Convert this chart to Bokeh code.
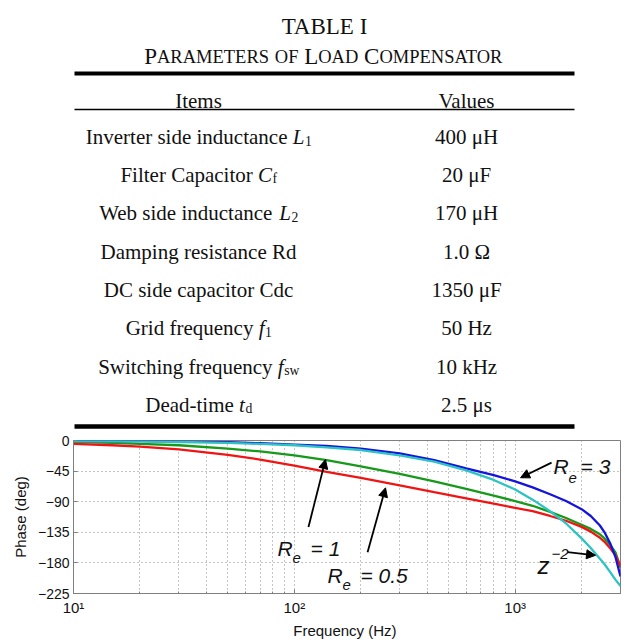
import math
from bokeh.plotting import figure
from bokeh.models import Range1d, FixedTicker, Label, Arrow, NormalHead
from bokeh.layouts import column
from bokeh.core.properties import value
from bokeh.embed import file_html
from bokeh.resources import INLINE

# ---------------- data ----------------
table_title = "TABLE I"
table_caption = [("P", "ARAMETERS"), ("", "OF"), ("L", "OAD"), ("C", "OMPENSATOR")]
col_headers = ["Items", "Values"]
item_base = ["Inverter side inductance ", "Filter Capacitor ", "Web side inductance ",
             "Damping resistance Rd", "DC side capacitor Cdc", "Grid frequency ",
             "Switching frequency ", "Dead-time "]
item_sym = ["L", "C", "L", "", "", "f", "f", "t"]
item_sub = ["1", "f", "2", "", "", "1", "sw", "d"]
item_values = ["400 μH", "20 μF", "170 μH", "1.0 Ω", "1350 μF", "50 Hz", "10 kHz", "2.5 μs"]

freq = [10, 15, 20, 30, 50, 70, 100, 140, 200, 300, 430, 600, 800, 1000, 1200, 1440,
        1700, 2000, 2200, 2420, 2540, 2700, 2850, 3000]
phase_re05 = [-5, -7, -9, -13, -21, -28, -37, -46, -55, -66, -76, -85, -93, -99, -104, -111,
              -118, -127, -134, -143, -149, -159, -169, -185]
phase_re1 = [-2, -3.5, -5, -7, -12, -16, -22, -29, -38, -49, -60, -71, -81, -89, -96, -105,
             -114, -124, -130, -138, -144, -154, -165, -187]
phase_re3 = [-0.5, -0.8, -1, -1.5, -2.5, -4, -6, -8, -12, -19, -29, -41, -51, -60, -69, -79,
             -89, -101, -111, -125, -135, -152, -172, -200]
phase_z2 = [-0.7, -1.1, -1.4, -2.2, -3.6, -5, -7, -10, -14, -22, -31, -44, -58, -72, -87, -104,
            -122, -144, -158, -174, -182, -194, -205, -214]

y_ticks = [0, -45, -90, -135, -180, -225]
x_major = [10, 100, 1000]
x_minor = [20, 30, 40, 50, 60, 70, 80, 90, 200, 300, 400, 500, 600, 700, 800, 900, 2000, 3000]
x_tick_labels = ["10\u00b9", "10\u00b2", "10\u00b3"]

# ---------------- table ----------------
SERIF = "Liberation Serif"
REG = {'a': 444, 'b': 500, 'c': 444, 'd': 500, 'e': 444, 'f': 333, 'g': 500, 'h': 500,
       'i': 278, 'k': 500, 'l': 278, 'm': 778, 'n': 500, 'o': 500, 'p': 500, 'q': 500,
       'r': 333, 's': 389, 't': 278, 'u': 500, 'v': 500, 'w': 722, 'y': 500, 'z': 444,
       ' ': 250, '-': 333, '.': 250, 'A': 722, 'B': 667, 'C': 667, 'D': 722, 'E': 611,
       'F': 556, 'G': 722, 'H': 722, 'I': 333, 'L': 611, 'M': 889, 'N': 722, 'O': 722,
       'P': 556, 'R': 667, 'S': 556, 'T': 611, 'V': 722, 'W': 944, 'μ': 576, 'Ω': 768}
ITA = {'L': 556, 'C': 667, 'f': 278, 't': 278}


def tw(s, size, italic=False):
    tot = 0
    for ch in s:
        if ch.isdigit():
            tot += 500
        elif italic and ch in ITA:
            tot += ITA[ch]
        else:
            tot += REG.get(ch, 500)
    return tot / 1000.0 * size


W = 633
FL, FR = 73, 13   # frame borders shared by both figures (column aligns them)
p1 = figure(width=W, height=430, x_range=Range1d(FL, W - FR), y_range=Range1d(430, 0),
            output_backend="svg", toolbar_location=None,
            min_border_left=FL, min_border_right=FR, min_border_top=0, min_border_bottom=0)
p1.axis.visible = False
p1.grid.visible = False
p1.outline_line_color = None

TCX = 324
ITEM_CX = 198
VAL_CX = 466
FS = 21
TXT = "#111111"
row_base = [136 + 38.35 * i for i in range(len(item_base))]

# title
p1.text(x=[TCX], y=[26], text=[table_title], text_font=value(SERIF), text_font_size="23px",
        text_align="center", text_baseline="alphabetic", text_color=TXT)
BIG, SMALL = 23, 18.5
pieces = []
for k, (cap, rest) in enumerate(table_caption):
    if cap:
        pieces.append((cap, BIG))
    pieces.append((rest, SMALL))
    if k < len(table_caption) - 1:
        pieces.append((" ", BIG))
total = sum(tw(s, sz) for s, sz in pieces)
xc = TCX - total / 2
for s, sz in pieces:
    if s.strip():
        p1.text(x=[xc], y=[56], text=[s], text_font=value(SERIF), text_font_size=f"{sz}px",
                text_align="left", text_baseline="alphabetic", text_color=TXT)
    xc += tw(s, sz)

# rules
RX0, RX1 = 74, 574
p1.segment(x0=[RX0], y0=[73], x1=[RX1], y1=[73], line_color="black", line_width=4)
p1.segment(x0=[RX0], y0=[109], x1=[RX1], y1=[109], line_color="black", line_width=1.5)
p1.segment(x0=[RX0], y0=[426], x1=[RX1], y1=[426], line_color="black", line_width=4.5)

# header
p1.text(x=[ITEM_CX, VAL_CX], y=[100, 100], text=col_headers, text_font=value(SERIF),
        text_font_size=f"{FS}px", text_align="center", text_baseline="alphabetic",
        text_color=TXT)

# rows
for i in range(len(item_base)):
    yb = row_base[i]
    base, sym, sub = item_base[i], item_sym[i], item_sub[i]
    if not sym:
        p1.text(x=[ITEM_CX], y=[yb], text=[base], text_font=value(SERIF),
                text_font_size=f"{FS}px", text_align="center", text_baseline="alphabetic",
                text_color=TXT)
    else:
        SUBFS = FS * 0.65
        bw = tw(base, FS)
        sw = tw(sym, FS, italic=True)
        subw = tw(sub, SUBFS)
        x0 = ITEM_CX - (bw + sw + subw) / 2
        p1.text(x=[x0], y=[yb], text=[base.rstrip()], text_font=value(SERIF),
                text_font_size=f"{FS}px", text_align="left", text_baseline="alphabetic",
                text_color=TXT)
        p1.text(x=[x0 + bw], y=[yb], text=[sym], text_font=value(SERIF),
                text_font_size=f"{FS}px", text_font_style="italic", text_align="left",
                text_baseline="alphabetic", text_color=TXT)
        p1.text(x=[x0 + bw + sw + 0.5], y=[yb + 4], text=[sub], text_font=value(SERIF),
                text_font_size=f"{SUBFS:.1f}px", text_align="left",
                text_baseline="alphabetic", text_color=TXT)
    p1.text(x=[VAL_CX], y=[yb], text=[item_values[i]], text_font=value(SERIF),
            text_font_size=f"{FS}px", text_align="center", text_baseline="alphabetic",
            text_color=TXT)

# ---------------- chart ----------------
SANS = "Liberation Sans"
p2 = figure(width=W, height=213, x_axis_type="log", x_range=Range1d(10, 3000),
            y_range=Range1d(-225, 0), output_backend="svg", toolbar_location=None,
            min_border_left=FL, min_border_right=FR, min_border_top=10, min_border_bottom=50)
p2.background_fill_color = "white"
p2.outline_line_color = "#7f7f7f"
p2.outline_line_width = 1

xt = FixedTicker(ticks=x_major, minor_ticks=x_minor)
yt = FixedTicker(ticks=y_ticks)
xa = p2.xaxis[0]
ya = p2.yaxis[0]
xa.ticker = xt
ya.ticker = yt
p2.xgrid[0].ticker = xt
p2.ygrid[0].ticker = yt
xa.major_label_overrides = dict(zip(x_major, x_tick_labels))
ya.major_label_overrides = {t: ("\u2212%d" % (-t) if t < 0 else "0") for t in y_ticks}

for ax in (xa, ya):
    ax.axis_line_color = "#7f7f7f"
    ax.major_tick_line_color = "#7f7f7f"
    ax.minor_tick_line_color = "#7f7f7f"
    ax.major_tick_in = 4
    ax.major_tick_out = 0
    ax.minor_tick_in = 2
    ax.minor_tick_out = 0
    ax.major_label_text_font = SANS
    ax.major_label_text_font_size = "14px"
    ax.major_label_text_color = TXT
    ax.axis_label_text_font = SANS
    ax.axis_label_text_font_size = "15px"
    ax.axis_label_text_font_style = "normal"
    ax.axis_label_text_color = TXT
xa.major_label_text_font_size = "15px"
xa.major_label_standoff = 5
xa.axis_label_standoff = 3
ya.major_label_standoff = 4
ya.axis_label_standoff = 6
xa.axis_label = "Frequency  (Hz)"
ya.axis_label = "Phase (deg)"

for g in (p2.xgrid[0], p2.ygrid[0]):
    g.grid_line_color = "#8a8a8a"
    g.grid_line_dash = "1 3"
    g.grid_line_width = 1
p2.xgrid[0].minor_grid_line_color = "#8a8a8a"
p2.xgrid[0].minor_grid_line_dash = "1 3"
p2.xgrid[0].minor_grid_line_width = 1

GREEN, RED, BLUE, CYAN = "#17991a", "#f01515", "#1414dc", "#2ec3c3"
p2.line(freq, phase_re1, line_color=GREEN, line_width=2.3)
p2.line(freq, phase_re05, line_color=RED, line_width=2.3)
p2.line(freq, phase_re3, line_color=BLUE, line_width=2.3)
p2.line(freq, phase_z2, line_color=CYAN, line_width=2.3)


def lab(x, y, text, dx=0, dy=0, size=21):
    p2.add_layout(Label(x=x, y=y, text=text, x_offset=dx, y_offset=dy,
                        text_font=SANS, text_font_style="italic",
                        text_font_size=f"{size}px", text_align="left",
                        text_baseline="alphabetic", text_color=TXT))


def arrow(xs, ys, xe, ye):
    p2.add_layout(Arrow(x_start=xs, y_start=ys, x_end=xe, y_end=ye, line_width=1.8,
                        line_color="black",
                        end=NormalHead(size=9, fill_color="black", line_color="black")))


# R_e = 3
lab(1493, -38.5, "R")
lab(1493, -38.5, "e", dx=15, dy=-11, size=15)
lab(1493, -38.5, "= 3", dx=27)
arrow(1462, -32.6, 1058, -54.8)
# R_e = 1
lab(84, -158.4, "R")
lab(84, -158.4, "e", dx=15, dy=-10, size=15)
lab(84, -158.4, "= 1", dx=33)
arrow(115.9, -127.3, 138.4, -28.1)
# R_e = 0.5
lab(141.3, -198.4, "R")
lab(141.3, -198.4, "e", dx=15, dy=-10, size=15)
lab(141.3, -198.4, "= 0.5", dx=33)
arrow(214.6, -164.3, 258.8, -69.6)
# z^-2
lab(1263, -183.6, "z", size=24)
lab(1263, -183.6, "\u22122", dx=14, dy=11, size=15)
arrow(1727, -164.3, 2312, -168.8)

layout = column(p1, p2, spacing=0)
open("out.html", "w").write(file_html(layout, INLINE))
